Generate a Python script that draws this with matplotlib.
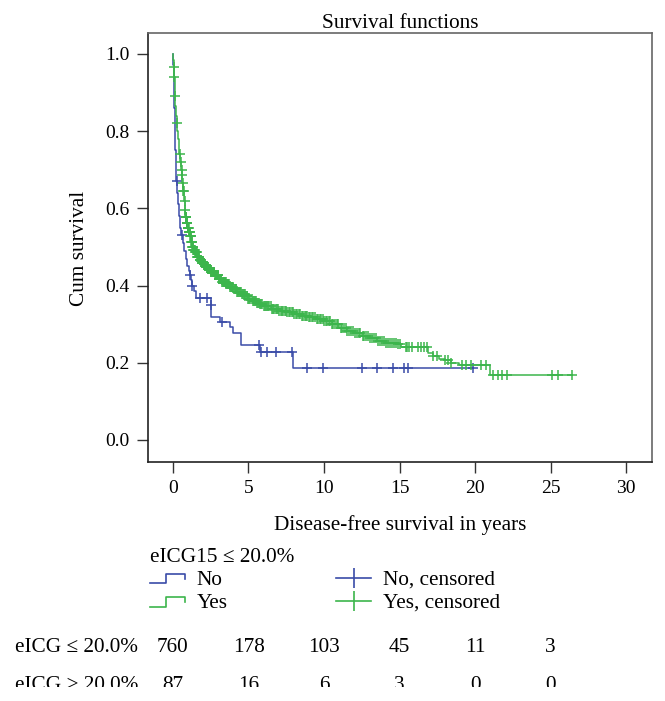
import numpy as np
import matplotlib
matplotlib.use("Agg")
import matplotlib.pyplot as plt
from matplotlib.lines import Line2D
from matplotlib.patches import Rectangle
from matplotlib.legend_handler import HandlerBase
import matplotlib.transforms as transforms

plt.rcParams['font.family'] = ['Liberation Serif', 'DejaVu Serif']
plt.rcParams['font.size'] = 15

# eICG15 <= 20.0% : No  (step times / survival after each drop)
no_t = [0.0, 0.02, 0.05, 0.08, 0.11, 0.15, 0.19, 0.22, 0.26, 0.32, 0.40, 0.48,
        0.56, 0.66, 0.75, 0.85, 0.95, 1.05, 1.10, 1.20, 1.26, 1.40, 1.55, 2.50,
        2.55, 3.10, 3.80, 4.00, 4.50, 5.76, 7.97]
no_s = [1.0, 0.97, 0.92, 0.86, 0.80, 0.75, 0.70, 0.67, 0.64, 0.61, 0.58, 0.55,
        0.53, 0.51, 0.49, 0.47, 0.45, 0.437, 0.427, 0.414, 0.40, 0.385, 0.367, 0.35,
        0.319, 0.306, 0.293, 0.276, 0.246, 0.229, 0.186]
no_end = 19.85
no_cens = [0.24, 0.62, 1.13, 1.28, 1.79, 2.23, 2.52, 3.22, 5.72, 5.80, 6.20, 6.82,
           7.86, 8.85, 9.90, 12.5, 13.5, 14.55, 15.3, 15.55, 19.85]

# eICG15 <= 20.0% : Yes
yes_t = [0.0, 0.03, 0.06, 0.09, 0.11, 0.13, 0.16, 0.20, 0.24, 0.28, 0.33, 0.38,
         0.43, 0.48, 0.53, 0.58, 0.63, 0.68, 0.73, 0.78, 0.83, 0.90, 0.97, 1.05,
         1.13, 1.20, 1.27, 1.35, 1.45, 1.60, 1.75, 1.90, 2.10, 2.30, 2.50, 2.75,
         3.00, 3.25, 3.50, 3.75, 4.00, 4.25, 4.50, 4.75, 5.00, 5.25, 5.50, 5.75,
         6.00, 6.50, 7.00, 7.50, 8.00, 8.50, 9.00, 9.50, 10.0, 10.5, 11.0, 11.5,
         12.0, 12.5, 13.0, 13.5, 14.0, 14.8, 15.1, 16.9, 17.2, 17.6, 18.0, 18.4,
         18.9, 21.0]
yes_s = [1.0, 0.985, 0.965, 0.94, 0.915, 0.89, 0.865, 0.84, 0.82, 0.80, 0.78, 0.76,
         0.74, 0.72, 0.70, 0.685, 0.665, 0.645, 0.62, 0.595, 0.578, 0.562, 0.55, 0.538,
         0.527, 0.512, 0.50, 0.493, 0.486, 0.475, 0.466, 0.459, 0.45, 0.443, 0.436, 0.427,
         0.418, 0.41, 0.403, 0.396, 0.39, 0.384, 0.378, 0.372, 0.366, 0.36, 0.355, 0.351,
         0.347, 0.34, 0.335, 0.331, 0.327, 0.322, 0.318, 0.313, 0.308, 0.30, 0.29, 0.283,
         0.277, 0.27, 0.263, 0.256, 0.252, 0.248, 0.24, 0.226, 0.217, 0.21, 0.206, 0.20,
         0.194, 0.168]
yes_end = 26.4
yes_cens = [0.08, 0.10, 0.13, 0.26, 0.46, 0.52, 0.57, 0.60, 0.64, 0.68, 0.72, 0.77,
            0.81, 0.84, 0.86, 0.88, 0.90, 0.93, 0.95, 0.98, 1.00, 1.02, 1.04, 1.06,
            1.08, 1.10, 1.12, 1.15, 1.17, 1.19, 1.21, 1.24, 1.26, 1.28, 1.30, 1.33,
            1.35, 1.37, 1.39, 1.42, 1.44, 1.47, 1.50, 1.53, 1.55, 1.58, 1.60, 1.63,
            1.66, 1.69, 1.71, 1.74, 1.77, 1.80, 1.82, 1.85, 1.88, 1.91, 1.94, 1.97,
            2.00, 2.03, 2.06, 2.10, 2.13, 2.16, 2.19, 2.23, 2.26, 2.30, 2.33, 2.37,
            2.40, 2.44, 2.47, 2.51, 2.55, 2.59, 2.62, 2.66, 2.70, 2.74, 2.78, 2.82,
            2.86, 2.91, 2.95, 2.99, 3.03, 3.08, 3.12, 3.16, 3.20, 3.25, 3.30, 3.35,
            3.39, 3.44, 3.48, 3.53, 3.58, 3.63, 3.67, 3.72, 3.77, 3.82, 3.88, 3.93,
            3.98, 4.04, 4.09, 4.15, 4.20, 4.26, 4.31, 4.37, 4.43, 4.49, 4.55, 4.61,
            4.67, 4.74, 4.80, 4.87, 4.93, 5.00, 5.06, 5.13, 5.20, 5.27, 5.34, 5.41,
            5.48, 5.55, 5.62, 5.70, 5.77, 5.85, 5.92, 6.00, 6.07, 6.15, 6.22, 6.30,
            6.38, 6.46, 6.55, 6.63, 6.72, 6.80, 6.88, 6.96, 7.05, 7.13, 7.22, 7.31,
            7.40, 7.49, 7.58, 7.67, 7.76, 7.85, 7.95, 8.04, 8.14, 8.24, 8.33, 8.43,
            8.52, 8.62, 8.71, 8.81, 8.90, 9.00, 9.10, 9.20, 9.30, 9.40, 9.50, 9.60,
            9.70, 9.80, 9.90, 10.0, 10.1, 10.2, 10.3, 10.4, 10.5, 10.6, 10.7, 10.85,
            10.95, 11.1, 11.2, 11.3, 11.45, 11.55, 11.65, 11.8, 11.9, 12.05, 12.15, 12.3,
            12.4, 12.55, 12.65, 12.8, 12.9, 13.05, 13.2, 13.3, 13.45, 13.6, 13.7, 13.85,
            13.95, 14.1, 14.2, 14.35, 14.5, 14.6, 14.75, 14.9, 15.0, 15.4, 15.5, 15.6,
            15.8, 16.2, 16.4, 16.6, 16.8, 17.2, 17.5, 18.0, 18.2, 18.4, 19.1, 19.4,
            19.7, 20.4, 20.7, 21.2, 21.5, 21.8, 22.1, 25.1, 25.45, 26.4]

# numbers at risk
risk_times = [0, 5, 10, 15, 20, 25]
risk_low = [760, 178, 103, 45, 11, 3]
risk_high = [87, 16, 6, 3, 0, 0]
risk_labels = ["eICG \u2264 20.0%", "eICG > 20.0%"]

blue = '#3a4ca8'
green = '#3cb54c'
FS = 15.3


def surv_at(times, surv, t):
    idx = np.searchsorted(times, t, side='right') - 1
    return np.asarray(surv)[idx]


class StepHandler(HandlerBase):
    def create_artists(self, legend, orig_handle, xdescent, ydescent,
                       width, height, fontsize, trans):
        w, h = width, height
        xs = np.array([0, 0.45, 0.45, 1.0, 1.0]) * w - xdescent
        ys = np.array([0.1, 0.1, 0.75, 0.75, 0.4]) * h - ydescent
        ln = Line2D(xs, ys, color=orig_handle.get_color(), lw=1.2)
        ln.set_transform(trans)
        return [ln]


fig = plt.figure(figsize=(6.65, 7.01), dpi=100)
ax = fig.add_axes([148 / 665, 1 - 462 / 701, 504 / 665, 429 / 701])

for t, s, end, cens, col in [(no_t, no_s, no_end, no_cens, blue),
                             (yes_t, yes_s, yes_end, yes_cens, green)]:
    tt = list(t) + [end]
    ss = list(s) + [s[-1]]
    ax.step(tt, ss, where='post', color=col, lw=1.1)
    cy = [surv_at(t, s, c) for c in cens]
    ax.plot(cens, cy, ls='none', marker='+', ms=6.5, mew=1.1, color=col)

ax.set_xlim(-1.65, 31.7)
ax.set_ylim(-0.057, 1.054)
ax.set_xticks([0, 5, 10, 15, 20, 25, 30])
ax.set_yticks([0.0, 0.2, 0.4, 0.6, 0.8, 1.0])
ax.yaxis.set_major_formatter(plt.FuncFormatter(lambda v, p: f"{v:.1f}"))
ax.tick_params(direction='out', length=8, width=1.0, labelsize=14, color='#333333')
ax.tick_params(axis='x', pad=5)
ax.tick_params(axis='y', pad=5)
for side in ['left', 'bottom']:
    ax.spines[side].set_color('#222222')
    ax.spines[side].set_linewidth(1.2)
for side in ['top', 'right']:
    ax.spines[side].set_color('#666666')
    ax.spines[side].set_linewidth(1.2)

fig.text(400 / 665, 1 - 28 / 701, "Survival functions", ha='center', va='baseline', fontsize=FS)
fig.text(400 / 665, 1 - 530 / 701, "Disease-free survival in years", ha='center', va='baseline', fontsize=FS)
fig.text(80 / 665, 1 - 248 / 701, "Cum survival", ha='center', va='center', rotation=90, fontsize=FS)

handles = [Line2D([], [], color=blue), Line2D([], [], color=green),
           Line2D([], [], color=blue, lw=1.2, marker='|', ms=14, mew=1.2),
           Line2D([], [], color=green, lw=1.2, marker='|', ms=14, mew=1.2)]
labels = ["No", "Yes", "No, censored", "Yes, censored"]
leg = fig.legend(handles, labels, loc='upper left', bbox_to_anchor=(135 / 665, 1 - 533 / 701),
                 ncol=2, frameon=False, title="eICG15 \u2264 20.0%", alignment='left',
                 handlelength=1.65, handletextpad=0.55, columnspacing=5.1, labelspacing=0.15,
                 borderpad=0.2, fontsize=FS, title_fontsize=FS, numpoints=1,
                 handler_map={handles[0]: StepHandler(), handles[1]: StepHandler()})

row_tr = transforms.blended_transform_factory(ax.transData, fig.transFigure)
for row, (lab, vals) in enumerate(zip(risk_labels, [risk_low, risk_high])):
    yf = 1 - (648 + 38 * row) / 701
    fig.text(138 / 665, yf, lab, ha='right', va='center', fontsize=FS)
    for t, v in zip(risk_times, vals):
        ax.text(t, yf, str(v), transform=row_tr, ha='center', va='center', fontsize=FS, clip_on=False)

# bottom of the picture is cut off
fig.patches.append(Rectangle((0, 0), 1, 1 - 687 / 701, transform=fig.transFigure,
                             facecolor='white', edgecolor='none', zorder=10))

fig.savefig("out.png", dpi=100)
